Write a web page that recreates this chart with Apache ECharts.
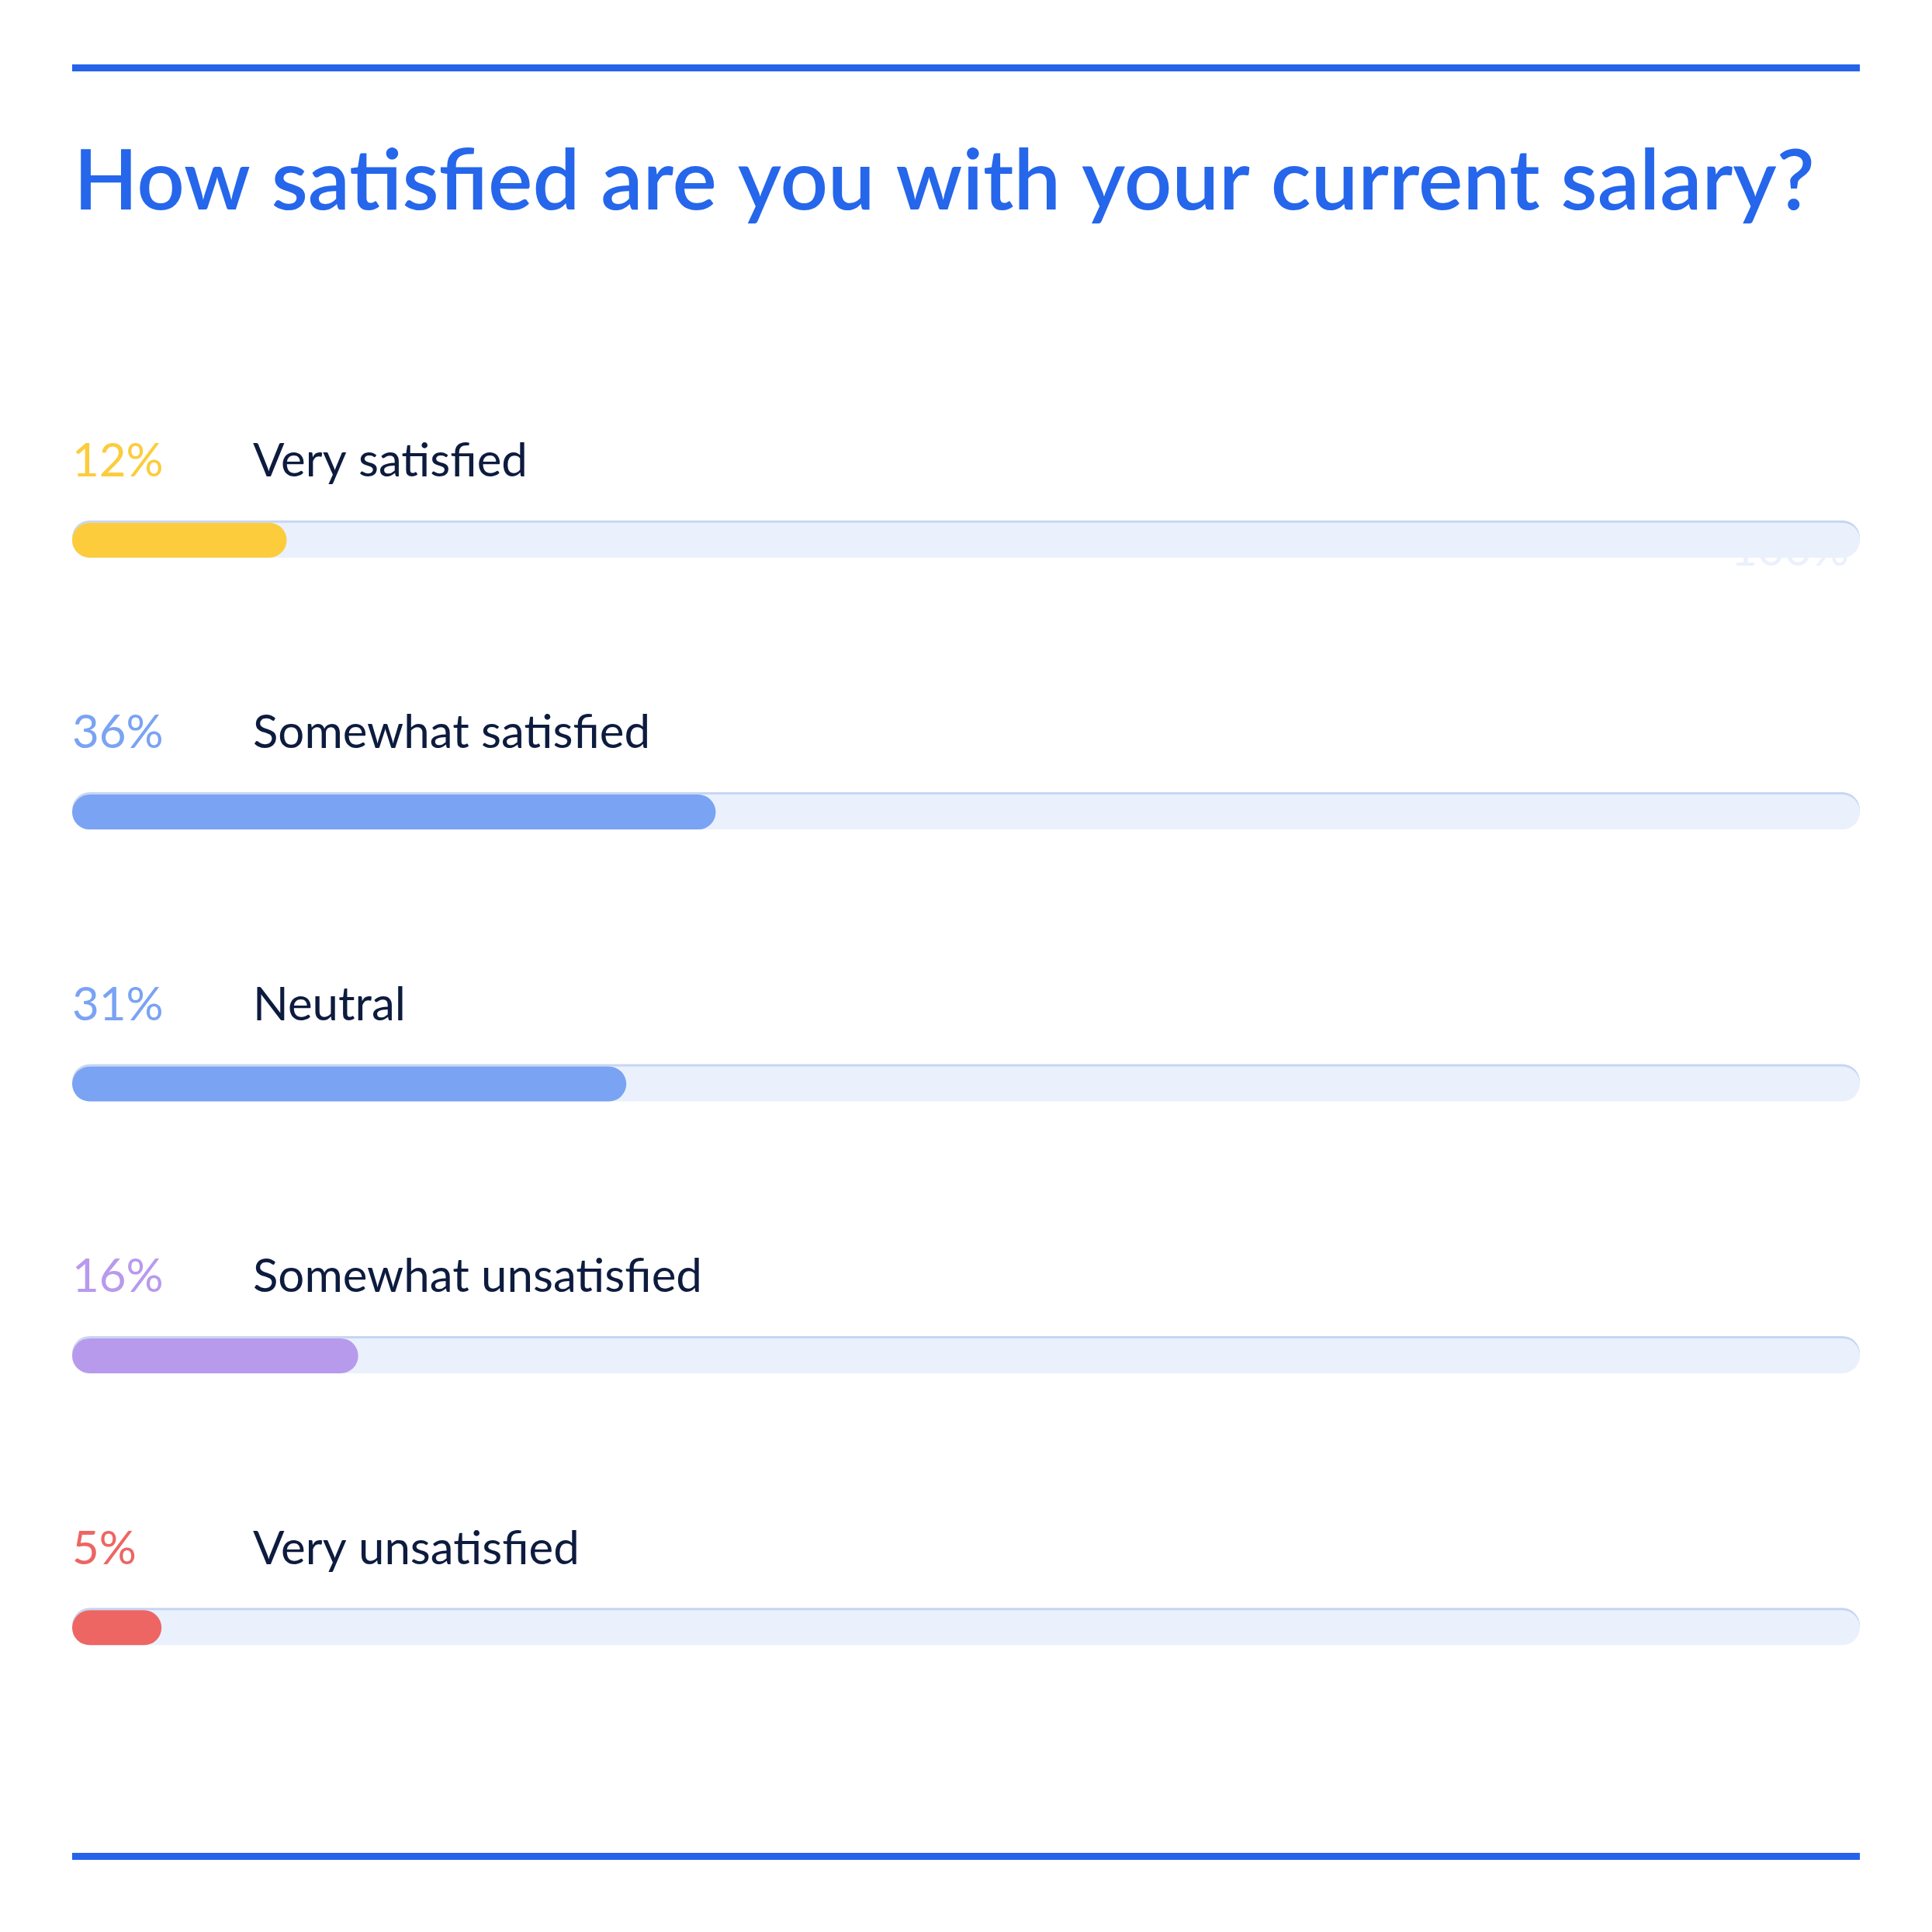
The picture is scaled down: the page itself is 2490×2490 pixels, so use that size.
<!DOCTYPE html>
<html>
<head>
<meta charset="utf-8">
<script src="https://cdn.jsdelivr.net/npm/echarts@6/dist/echarts.min.js"></script>
<style>
html,body{margin:0;padding:0;background:#ffffff;}
#chart{width:2490px;height:2490px;}
</style>
</head>
<body>
<div id="chart"></div>
<script>
var titleText = 'How satisfied are you with your current salary?';
var categories = ['Very satisfied', 'Somewhat satisfied', 'Neutral', 'Somewhat unsatisfied', 'Very unsatisfied'];
var values = [12, 36, 31, 16, 5];
var barColors = ['#fccc3c', '#7aa3f3', '#7aa3f3', '#b89aed', '#ed6663'];
var trackMax = [100, 100, 100, 100, 100];
var maxLabel = '100%';

var chart = echarts.init(document.getElementById('chart'), null, {renderer: 'canvas'});
var FONT = 'Lato';

var barData = values.map(function (v, i) {
  var rich = {};
  rich['v' + i] = {color: barColors[i], fontSize: 60, fontFamily: FONT, width: 233};
  rich.c = {color: '#0d1b3e', fontSize: 60, fontFamily: FONT};
  return {
    value: v,
    itemStyle: {color: barColors[i]},
    label: {
      show: true,
      position: [0, -79],
      align: 'left',
      verticalAlign: 'middle',
      formatter: '{v' + i + '|' + v + '%}{c|' + categories[i] + '}',
      rich: rich
    }
  };
});

var trackData = trackMax.map(function (v, i) {
  var item = {value: v};
  if (i === 0) {
    item.label = {
      show: true,
      position: [2290, 36],
      align: 'right',
      verticalAlign: 'middle',
      formatter: maxLabel,
      color: '#ebf1fb',
      fontSize: 60,
      fontFamily: FONT
    };
  }
  return item;
});

chart.setOption({
  backgroundColor: '#ffffff',
  animation: false,
  title: {
    text: titleText,
    left: 90,
    top: 176,
    textStyle: {color: '#2566eb', fontSize: 108, fontWeight: 600, fontFamily: FONT}
  },
  grid: {left: 93, right: 93, top: 521, bottom: 217},
  xAxis: {type: 'value', min: 0, max: 100, show: false},
  yAxis: {type: 'category', data: categories, inverse: true, show: false},
  series: [
    {
      type: 'bar',
      data: trackData,
      barWidth: 45,
      silent: true,
      itemStyle: {
        color: '#eaf1fc',
        borderRadius: 23,
        shadowColor: '#c6d6f2',
        shadowOffsetY: -3,
        shadowBlur: 0
      }
    },
    {
      type: 'bar',
      data: barData,
      barWidth: 45,
      barGap: '-100%',
      itemStyle: {borderRadius: 23}
    }
  ],
  graphic: [
    {type: 'rect', shape: {x: 93, y: 83, width: 2304, height: 9}, style: {fill: '#2563eb'}},
    {type: 'rect', shape: {x: 93, y: 2388, width: 2304, height: 9}, style: {fill: '#2563eb'}}
  ]
});
</script>
</body>
</html>
